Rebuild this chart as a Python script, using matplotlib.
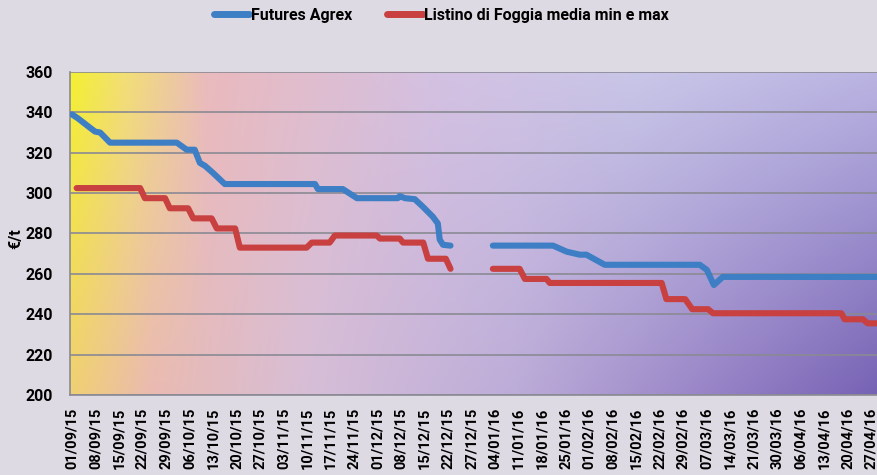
import numpy as np
import matplotlib.pyplot as plt
from matplotlib.lines import Line2D

plt.rcParams["font.family"] = ["Liberation Sans Narrow", "Roboto", "DejaVu Sans"]

# category labels, one every 5 trading days
date_labels = [
    "01/09/15", "08/09/15", "15/09/15", "22/09/15", "29/09/15", "06/10/15",
    "13/10/15", "20/10/15", "27/10/15", "03/11/15", "10/11/15", "17/11/15",
    "24/11/15", "01/12/15", "08/12/15", "15/12/15", "22/12/15", "27/12/15",
    "04/01/16", "11/01/16", "18/01/16", "25/01/16", "01/02/16", "08/02/16",
    "15/02/16", "22/02/16", "29/02/16", "07/03/16", "14/03/16", "21/03/16",
    "30/03/16", "06/04/16", "13/04/16", "20/04/16", "27/04/16",
]

# Futures Agrex (trading-day index, €/t); nan = holiday gap
agrex_x = [0, 1.3, 3.5, 4.9, 6, 8.1, 22.3, 24.4, 26.1, 27.2, 28.3, 30, 32.5,
           51.7, 52.3, 57.6, 60.6, 69.3, 69.7, 70.8, 72.9, 74.6, 76.7, 77.8,
           78.2, 78.9, 80.5, 85, 89.5, 102.3, 105.2, 108, 109.4, 113.3,
           133.5, 135, 136.5, 138.4, 175]
agrex_y = [339, 337, 333, 330.5, 330, 325, 325, 321.5, 321.5, 315, 313.5, 310,
           304.5, 304.5, 302, 302, 297.5, 297.5, 298.5, 297.5, 297, 293.3,
           288.4, 285, 277, 274.4, 274, np.nan, 274, 274, 271, 269.5, 269.5,
           264.5, 264.5, 262, 254.5, 258.5, 258.5]

# Listino di Foggia, media min e max
foggia_x = [1, 14.5, 15.5, 19.8, 20.8, 24.7, 25.8, 29.7, 30.8, 34.7, 35.7,
            49.9, 51, 54.8, 55.9, 64.8, 65.5, 69.7, 70.4, 74.7, 75.7, 79.5,
            80.5, 85, 89.5, 95.2, 96.3, 100.9, 101.6, 125.4, 126.4, 130.4,
            131.9, 135.3, 136.3, 163.6, 164.3, 168.2, 169.2, 175]
foggia_y = [302.5, 302.5, 297.5, 297.5, 292.5, 292.5, 287.5, 287.5, 282.5,
            282.5, 273, 273, 275.5, 275.5, 279, 279, 277.5, 277.5, 275.5,
            275.5, 267.5, 267.5, 262.5, np.nan, 262.5, 262.5, 257.5, 257.5,
            255.5, 255.5, 247.5, 247.5, 242.5, 242.5, 240.5, 240.5, 237.5,
            237.5, 235.5, 235.5]

BLUE = "#3d7ec4"
RED = "#c8403f"

fig = plt.figure(figsize=(8.78, 4.75), dpi=100)
fig.patch.set_facecolor("#dedae3")

ax = fig.add_axes([69.6 / 878, 80 / 475, 808.4 / 878, 323 / 475])


# ── background gradient (yellow -> pink -> lavender -> purple) ──
def ramp(stops, u):
    pos = [s[0] for s in stops]
    return np.stack([np.interp(u, pos, [s[1][c] for s in stops]) for c in range(3)], axis=-1)


u = np.linspace(0, 1, 400)
v = np.linspace(0, 1, 200)[:, None, None]
top = ramp([(0, (244, 240, 50)), (0.07, (242, 222, 120)), (0.17, (234, 186, 190)),
            (0.45, (212, 193, 226)), (0.7, (200, 198, 232)), (1, (186, 180, 226))], u)
bottom = ramp([(0, (240, 208, 115)), (0.1, (234, 186, 178)), (0.3, (214, 190, 216)),
               (0.55, (188, 172, 216)), (0.8, (150, 130, 198)), (1, (118, 98, 180))], u)
grad = (top[None, :, :] * (1 - v) + bottom[None, :, :] * v) / 255
ax.imshow(grad, extent=[0, 1, 0, 1], transform=ax.transAxes, aspect="auto",
          zorder=0, interpolation="bilinear")

ax.plot(agrex_x, agrex_y, color=BLUE, lw=4.4, solid_capstyle="round",
        solid_joinstyle="round", zorder=3)
ax.plot(foggia_x, foggia_y, color=RED, lw=4.4, solid_capstyle="round",
        solid_joinstyle="round", zorder=3)

ax.set_xlim(-0.5, 171.4)
ax.set_ylim(200, 360)
ax.set_yticks(range(200, 361, 20))
ax.set_xticks(range(0, 5 * len(date_labels), 5))
ax.set_xticklabels(date_labels, rotation=90, fontsize=10.5, fontweight="bold")
ax.tick_params(axis="y", labelsize=11.5, pad=12)
ax.tick_params(axis="x", pad=9)
for lab in ax.get_yticklabels():
    lab.set_fontweight("bold")
ax.tick_params(length=0)
ax.grid(axis="y", color="#8a8a94", lw=1.2, zorder=1)
ax.set_axisbelow(False)
for side in ["top", "right"]:
    ax.spines[side].set_visible(False)
for side in ["left", "bottom"]:
    ax.spines[side].set_color("#8a8a94")
    ax.spines[side].set_linewidth(1.2)

fig.text(0.018, 0.497, "€/t", rotation=90, fontsize=11.5, fontweight="bold",
         va="center", ha="center")

handles = [Line2D([], [], color=BLUE, lw=5, solid_capstyle="round"),
           Line2D([], [], color=RED, lw=5, solid_capstyle="round")]
fig.legend(handles, ["Futures Agrex", "Listino di Foggia media min e max"],
           loc="center", bbox_to_anchor=(0.503, 0.968), ncol=2, frameon=False,
           handlelength=2.2, handletextpad=0.1, columnspacing=2.2,
           prop={"weight": "bold", "size": 11.5})

fig.savefig("out.png", dpi=100, facecolor=fig.get_facecolor())
